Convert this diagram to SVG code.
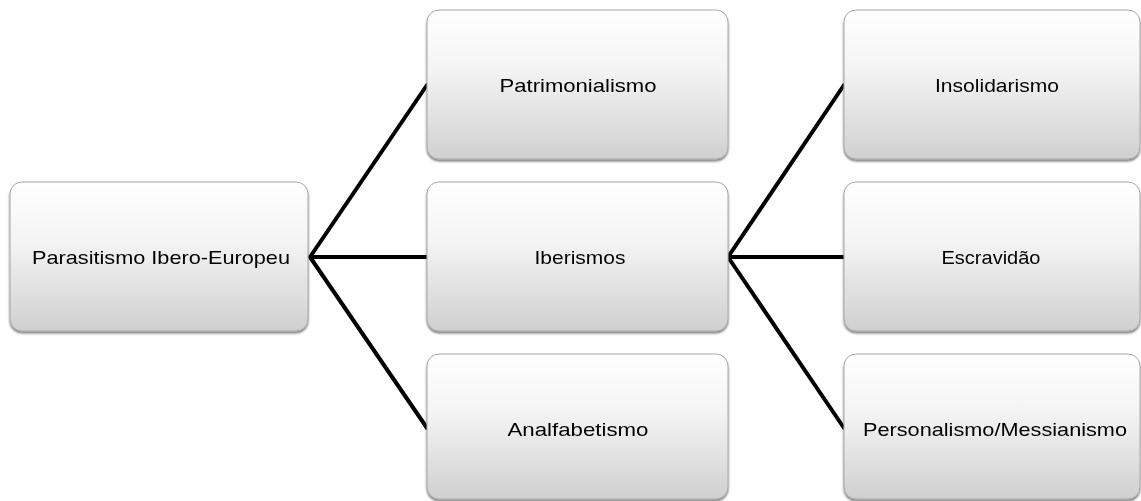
<svg xmlns="http://www.w3.org/2000/svg" width="1141" height="501" viewBox="0 0 1141 501">
<style>
.box{fill:url(#g);stroke:#a8a8a8;stroke-width:1}
.t{font-family:"Liberation Sans",Arial,sans-serif;font-size:18.5px;fill:#000;text-anchor:middle}
.c{stroke:#000;stroke-width:4;fill:none;stroke-linecap:round}
</style>
<defs>
<linearGradient id="g" x1="0" y1="0" x2="0" y2="1">
<stop offset="0" stop-color="#ffffff"/>
<stop offset="0.4" stop-color="#f4f4f4"/>
<stop offset="1" stop-color="#d0d0d0"/>
</linearGradient>
<filter id="f" x="-5%" y="-5%" width="110%" height="115%">
<feGaussianBlur in="SourceAlpha" stdDeviation="1.2"/>
<feOffset dy="1.5" result="b"/>
<feFlood flood-color="#000" flood-opacity="0.5"/>
<feComposite in2="b" operator="in"/>
<feMerge><feMergeNode/><feMergeNode in="SourceGraphic"/></feMerge>
</filter>
</defs>
<g id="connectors">
<path class="c" d="M310 257 L427 85 M310 257 L427 257 M310 257 L427 428"/>
<path class="c" d="M728 257 L844 85 M728 257 L844 257 M728 257 L844 428"/>
</g>
<g id="n1" filter="url(#f)"><rect class="box" x="10" y="182" width="298" height="149" rx="12"/><text class="t" x="161" y="264" textLength="258" lengthAdjust="spacingAndGlyphs">Parasitismo Ibero-Europeu</text></g>
<g id="n2" filter="url(#f)"><rect class="box" x="427" y="10" width="301" height="149" rx="12"/><text class="t" x="578" y="92" textLength="157" lengthAdjust="spacingAndGlyphs">Patrimonialismo</text></g>
<g id="n3" filter="url(#f)"><rect class="box" x="427" y="182" width="301" height="149" rx="12"/><text class="t" x="580" y="264" textLength="91" lengthAdjust="spacingAndGlyphs">Iberismos</text></g>
<g id="n4" filter="url(#f)"><rect class="box" x="427" y="354" width="301" height="145" rx="12"/><text class="t" x="578" y="436" textLength="141" lengthAdjust="spacingAndGlyphs">Analfabetismo</text></g>
<g id="n5" filter="url(#f)"><rect class="box" x="844" y="10" width="296" height="149" rx="12"/><text class="t" x="997" y="92" textLength="124" lengthAdjust="spacingAndGlyphs">Insolidarismo</text></g>
<g id="n6" filter="url(#f)"><rect class="box" x="844" y="182" width="296" height="149" rx="12"/><text class="t" x="991" y="264" textLength="99" lengthAdjust="spacingAndGlyphs">Escravidão</text></g>
<g id="n7" filter="url(#f)"><rect class="box" x="844" y="354" width="296" height="145" rx="12"/><text class="t" x="995" y="436" textLength="264" lengthAdjust="spacingAndGlyphs">Personalismo/Messianismo</text></g>
</svg>
